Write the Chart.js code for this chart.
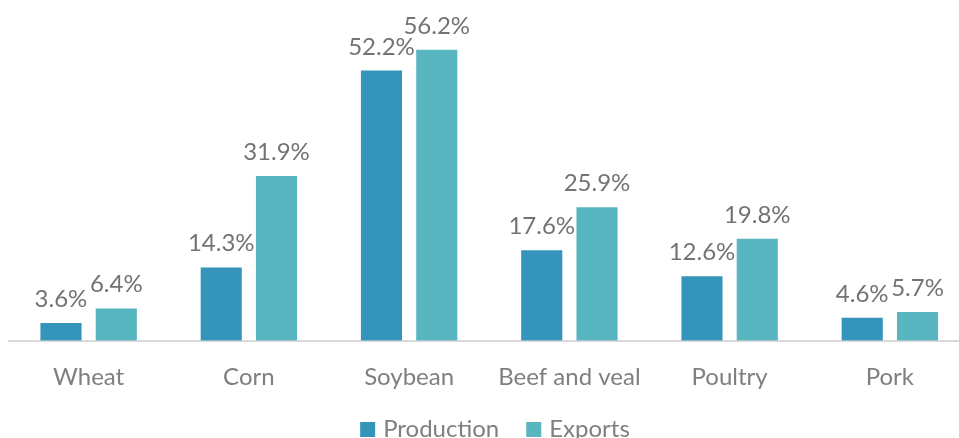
<!DOCTYPE html>
<html>
<head>
<meta charset="utf-8">
<script src="https://cdn.jsdelivr.net/npm/chart.js@4/dist/chart.umd.min.js"></script>
<style>
  html, body { margin: 0; padding: 0; background: #fff; overflow: hidden; }
  #wrap { width: 990px; height: 438px; position: relative; }
</style>
</head>
<body>
<div id="wrap"><canvas id="share-chart"></canvas></div>
<script>
const categories = ['Wheat', 'Corn', 'Soybean', 'Beef and veal', 'Poultry', 'Pork'];
const production = [3.6, 14.3, 52.2, 17.6, 12.6, 4.6];
const exportsShare = [6.4, 31.9, 56.2, 25.9, 19.8, 5.7];

const FONT = 'Lato, "Open Sans", sans-serif';

// value labels above each bar
const barLabels = {
    id: 'barLabels',
    afterDatasetsDraw(chart) {
        const ctx = chart.ctx;
        ctx.save();
        ctx.font = '24px ' + FONT;
        ctx.fillStyle = '#737373';
        ctx.textAlign = 'center';
        ctx.textBaseline = 'alphabetic';
        chart.data.datasets.forEach((ds, i) => {
            chart.getDatasetMeta(i).data.forEach((bar, j) => {
                ctx.fillText(ds.data[j].toFixed(1) + '%', bar.x, bar.y - 15);
            });
        });
        ctx.restore();
    }
};

// legend along the bottom edge, wider gap between entries than the built-in one
const bottomLegend = {
    id: 'bottomLegend',
    afterDraw(chart) {
        const ctx = chart.ctx;
        const box = 15, gap = 8, itemGap = 27;
        const baseline = chart.height - 1;
        ctx.save();
        ctx.font = '24px ' + FONT;
        ctx.textBaseline = 'alphabetic';
        ctx.textAlign = 'left';
        const items = chart.data.datasets.map(ds => ({
            text: ds.label, color: ds.backgroundColor, w: ctx.measureText(ds.label).width
        }));
        const total = items.reduce((s, it) => s + box + gap + it.w, 0) + itemGap * (items.length - 1);
        let x = chart.width / 2 - total / 2;
        items.forEach(it => {
            ctx.fillStyle = it.color;
            ctx.fillRect(x, baseline - box, box, box);
            ctx.fillStyle = '#7f7f7f';
            ctx.fillText(it.text, x + box + gap, baseline);
            x += box + gap + it.w + itemGap;
        });
        ctx.restore();
    }
};

new Chart(document.getElementById('share-chart').getContext('2d'), {
    type: 'bar',
    data: {
        labels: categories,
        datasets: [
            {
                label: 'Production',
                data: production,
                backgroundColor: '#3494BA',
                borderColor: 'rgba(255,255,255,0.5)',
                borderWidth: 1
            },
            {
                label: 'Exports',
                data: exportsShare,
                backgroundColor: '#58B6C0',
                borderColor: 'rgba(255,255,255,0.5)',
                borderWidth: 1
            }
        ]
    },
    options: {
        responsive: true,
        maintainAspectRatio: false,
        animation: false,
        categoryPercentage: 0.69,
        barPercentage: 0.78,
        layout: { padding: { top: 29, left: 8.5, right: 20, bottom: 24.5 } },
        scales: {
            x: {
                grid: { display: false, drawTicks: false },
                border: { display: true, color: '#d9d9d9', width: 2 },
                ticks: { color: '#7f7f7f', font: { family: FONT, size: 24 }, padding: 22 }
            },
            y: {
                display: false,
                min: 0,
                max: 60
            }
        },
        plugins: {
            legend: { display: false },
            tooltip: { enabled: false }
        }
    },
    plugins: [barLabels, bottomLegend]
});
</script>
</body>
</html>
